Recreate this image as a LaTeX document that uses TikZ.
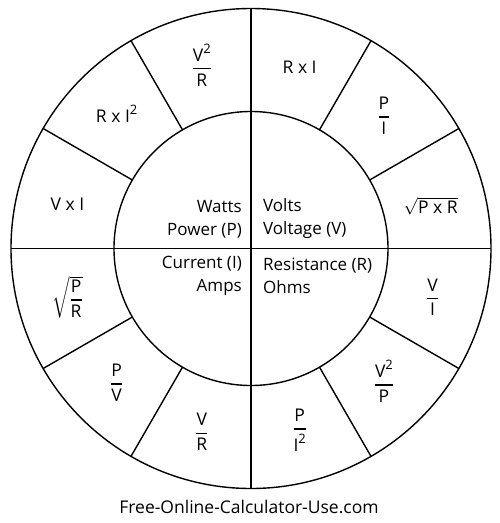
\documentclass[tikz,border=0pt]{standalone}
\usepackage{amsmath}
\usepackage{fontspec}
\setmainfont[FakeBold=1.2,AutoFakeBold=0]{Open Sans}
\usetikzlibrary{calc}
\newcommand{\fr}[2]{\genfrac{}{}{1.4pt}{0}{\text{#1}}{\text{#2}}}
\newcommand{\sqd}{\raisebox{0.45em}{\fontsize{13}{13}\selectfont 2}}
\begin{document}
\begin{tikzpicture}[x=1pt,y=1pt,
  ring/.style={line width=1.4pt},
  lab/.style={font=\fontsize{17.5}{23}\selectfont\bfseries, inner sep=0pt},
  inlab/.style={font=\fontsize{17}{23}\selectfont\bfseries, inner sep=0pt}]
\useasboundingbox (0,0) rectangle (500,-523);
\coordinate (c) at (251,-248.5);
% circles
\draw[ring] (c) circle (240);
\draw[ring] (c) circle (137);
% diameters
\draw[ring] ($(c)+(90:240)$) -- ($(c)+(270:240)$);
\draw[ring] ($(c)+(0:240)$) -- ($(c)+(180:240)$);
% sector dividers
\foreach \a in {30,60,120,150,210,240,300,330}
  \draw[ring] ($(c)+(\a:137)$) -- ($(c)+(\a:240)$);
% outer labels
\node[lab] (s75)  at ($(c)+(75:188)$)  {R x I};
\node[lab] (s45)  at ($(c)+(45:188)$)  {$\fr{P}{I}$};
\node[lab] (s15)  at ($(c)+(15:186)+(0,-6)$)  {$\sqrt{\text{P x R}}$};
\node[lab] (s345) at ($(c)+(345:188)$) {$\fr{V}{I}$};
\node[lab] (s315) at ($(c)+(315:188)$) {$\fr{V\sqd}{P}$};
\node[lab] (s285) at ($(c)+(285:188)$) {$\fr{P}{I\sqd}$};
\node[lab] (s255) at ($(c)+(255:190)$) {$\fr{V}{R}$};
\node[lab] (s225) at ($(c)+(225:190)$) {$\fr{P}{V}$};
\node[lab] (s195) at ($(c)+(195:190)$) {$\sqrt{\fr{P}{R}}$};
\node[lab] (s165) at ($(c)+(165:190)+(0,-5)$) {V x I};
\node[lab] (s135) at ($(c)+(135:190)$) {R x I\sqd};
\node[lab] (s105) at ($(c)+(105:190)$) {$\fr{V\sqd}{R}$};
% inner labels
\node[inlab, anchor=east, align=right] (pw) at (242,-219) {Watts\\Power (P)};
\node[inlab, anchor=west, align=left] (vo) at (263,-219) {Volts\\Voltage (V)};
\node[inlab, anchor=east, align=right] (cu) at (242,-276) {Current (I)\\Amps};
\node[inlab, anchor=west, align=left] (re) at (263,-276) {Resistance (R)\\Ohms};
% footer
\node[lab] (ft) at (249,-507) {Free-Online-Calculator-Use.com};
\end{tikzpicture}
\end{document}
